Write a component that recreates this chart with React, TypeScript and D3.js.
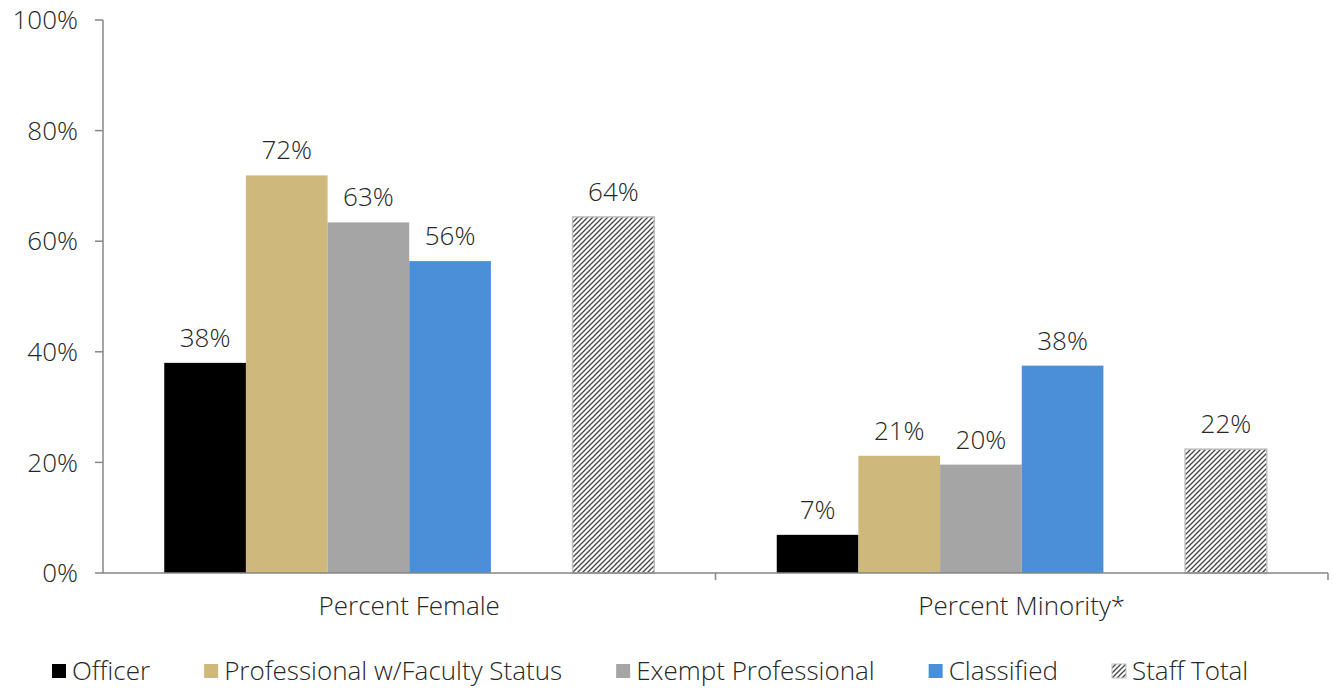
import React, { useEffect, useRef } from "react";
import * as d3 from "d3";

const categories = ["Percent Female", "Percent Minority*"];
const seriesNames = ["Officer", "Professional w/Faculty Status", "Exempt Professional", "Classified", "", "Staff Total"];
const officer = [38.0, 6.9];
const professional = [71.9, 21.2];
const exempt = [63.4, 19.6];
const classified = [56.4, 37.5];
const staffTotal = [64.4, 22.4];
const yTicks = [0, 20, 40, 60, 80, 100];

const seriesValues: (number[] | null)[] = [officer, professional, exempt, classified, null, staffTotal];
const colors = ["#000000", "#CFB87C", "#A5A5A5", "#4A90D9", "none", "url(#hatch)"];

const W = 1333, H = 690;
const FONT = "'Open Sans', sans-serif";
const FS = 26;

export default function App() {
  const ref = useRef<SVGSVGElement>(null);
  useEffect(() => {
    const svg = d3.select(ref.current);
    svg.selectAll("*").remove();
    const left = 103, right = 1328, top = 20, bottom = 573;
    const y = d3.scaleLinear().domain([0, 100]).range([bottom, top]);
    const x0 = d3.scaleBand().domain(categories).range([left, right]).paddingInner(0).paddingOuter(0);
    const x1 = d3.scaleBand().domain(seriesNames.map((_, i) => String(i))).range([0, x0.bandwidth()]).paddingOuter(0.75).paddingInner(0);

    const defs = svg.append("defs");
    const pat = defs.append("pattern").attr("id", "hatch").attr("patternUnits", "userSpaceOnUse").attr("width", 5).attr("height", 5);
    pat.append("rect").attr("width", 5).attr("height", 5).attr("fill", "#fff");
    pat.append("path").attr("d", "M-1,1 l2,-2 M0,5 l5,-5 M4,6 l2,-2").attr("stroke", "#444").attr("stroke-width", 1.3);

    const txt = "#262626";
    const g = svg.append("g");
    g.append("line").attr("x1", left).attr("x2", left).attr("y1", top).attr("y2", bottom).attr("stroke", "#868686").attr("stroke-width", 1.5);
    yTicks.forEach((t) => {
      g.append("line").attr("x1", left - 8).attr("x2", left).attr("y1", y(t)).attr("y2", y(t)).attr("stroke", "#868686").attr("stroke-width", 1.5);
      g.append("text").attr("x", 78).attr("y", y(t)).attr("dy", "0.35em").attr("text-anchor", "end")
        .attr("font-family", FONT).attr("font-weight", 300).attr("font-size", FS).attr("fill", txt).text(`${t}%`);
    });

    categories.forEach((c, ci) => {
      seriesValues.forEach((vals, si) => {
        if (!vals) return;
        const v = vals[ci];
        const bx = (x0(c) as number) + (x1(String(si)) as number);
        const bw = x1.bandwidth();
        g.append("rect").attr("x", bx).attr("y", y(v)).attr("width", bw).attr("height", y(0) - y(v))
          .attr("fill", colors[si])
          .attr("stroke", si === 5 ? "#BFBFBF" : "none").attr("stroke-width", 1.5);
        g.append("text").attr("x", bx + bw / 2).attr("y", y(v) - 16).attr("text-anchor", "middle")
          .attr("font-family", FONT).attr("font-weight", 300).attr("font-size", FS).attr("fill", txt)
          .text(`${Math.round(v)}%`);
      });
      g.append("text").attr("x", (x0(c) as number) + x0.bandwidth() / 2).attr("y", 615).attr("text-anchor", "middle")
        .attr("font-family", FONT).attr("font-weight", 300).attr("font-size", FS).attr("fill", txt).text(c);
    });

    g.append("line").attr("x1", left).attr("x2", right).attr("y1", bottom).attr("y2", bottom).attr("stroke", "#868686").attr("stroke-width", 1.5);
    [x0(categories[1]) as number, right].forEach((px) => {
      g.append("line").attr("x1", px).attr("x2", px).attr("y1", bottom).attr("y2", bottom + 7).attr("stroke", "#868686").attr("stroke-width", 1.5);
    });

    const leg = svg.append("g");
    let lx = 52;
    const ly = 671;
    seriesNames.forEach((name, si) => {
      if (!name) return;
      leg.append("rect").attr("x", lx).attr("y", ly - 7).attr("width", 14).attr("height", 14)
        .attr("fill", colors[si]).attr("stroke", si === 5 ? "#BFBFBF" : "none").attr("stroke-width", 1);
      const t = leg.append("text").attr("x", lx + 20).attr("y", ly).attr("dy", "0.35em")
        .attr("font-family", FONT).attr("font-weight", 300).attr("font-size", 26).attr("fill", txt).text(name);
      const w = (t.node() as SVGTextElement).getComputedTextLength();
      lx = lx + 20 + w + 54;
    });
  }, []);
  return <svg ref={ref} width={W} height={H} style={{ position: "absolute", left: 0, top: 0, background: "#fff" }} />;
}
